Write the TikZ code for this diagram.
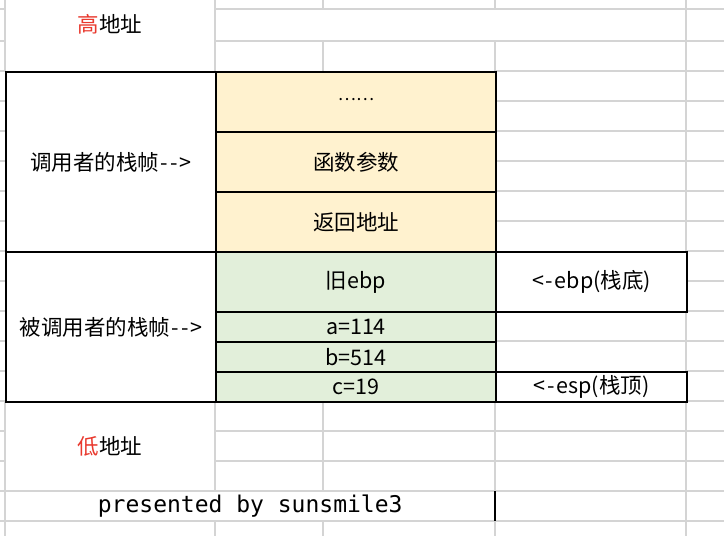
\documentclass[tikz,border=0pt]{standalone}
\usepackage{fontspec}
\setmainfont{Noto Sans CJK SC}
\newfontfamily\monofont{DejaVu Sans Mono}
\definecolor{gridgray}{RGB}{212,212,212}
\definecolor{cellyellow}{RGB}{255,242,207}
\definecolor{cellgreen}{RGB}{226,239,218}
\definecolor{addrred}{RGB}{233,57,46}
\newcommand{\arrowtxt}{\kern1.5pt-\kern2pt-\kern2pt>}
\newcommand{\leftarrowtxt}{<\kern2pt-\kern1.5pt}
\tikzset{
  gridline/.style={draw=gridgray, line width=1.5pt},
  blackline/.style={draw=black, line width=2pt},
  cell/.style={draw=black, line width=2pt, anchor=north west, inner sep=0pt,
    font=\fontsize{21.5}{25}\selectfont, text=black},
  plain/.style={anchor=north west, inner sep=0pt,
    font=\fontsize{21.5}{25}\selectfont, text=black},
}
\begin{document}
\begin{tikzpicture}[x=1pt,y=-1pt]
\useasboundingbox (0,0) rectangle (724,536);
\fill[white] (0,0) rectangle (724,536);
% ---- gray grid ----
% verticals
\draw[gridline] (5,0) -- (5,71) (5,401) -- (5,536);
\draw[gridline] (215,0) -- (215,71) (215,401) -- (215,491) (215,521) -- (215,536);
\draw[gridline] (323,0) -- (323,9) (323,41) -- (323,71) (323,401) -- (323,491) (323,521) -- (323,536);
\draw[gridline] (495,0) -- (495,9) (495,41) -- (495,71) (495,401) -- (495,491) (495,521) -- (495,536);
\draw[gridline] (686,0) -- (686,251) (686,311) -- (686,371) (686,401) -- (686,536);
% horizontals
\foreach \y in {9,41,431,461} { \draw[gridline] (0,\y) -- (5,\y) (215,\y) -- (724,\y); }
\foreach \y in {71,101,131,161,191,221,341} { \draw[gridline] (0,\y) -- (5,\y) (495,\y) -- (724,\y); }
\foreach \y in {251,281,311,371,401} { \draw[gridline] (0,\y) -- (5,\y) (686,\y) -- (724,\y); }
\foreach \y in {491,521} { \draw[gridline] (0,\y) -- (724,\y); }
% ---- unbordered cells ----
\node[plain, minimum width=210pt, minimum height=48pt] (high) at (5,0) {\textcolor{addrred}{高}地址};
\node[plain, minimum width=210pt, minimum height=90pt] (low) at (5,401) {\textcolor{addrred}{低}地址};
\node[plain, minimum width=490pt, minimum height=30pt, font=\monofont\fontsize{23}{26}\selectfont] (credit) at (5,491) {presented by sunsmile3};
% ---- bordered cells ----
\node[cell, fill=white, minimum width=210pt, minimum height=180pt] (caller) at (5,71) {调用者的栈帧\arrowtxt};
\node[cell, fill=white, minimum width=210pt, minimum height=150pt] (callee) at (5,251) {被调用者的栈帧\arrowtxt};
\node[cell, fill=cellyellow, minimum width=280pt, minimum height=60pt] (dots) at (215,71) {\raisebox{6pt}{\fontsize{17}{20}\selectfont ……}};
\node[cell, fill=cellyellow, minimum width=280pt, minimum height=60pt] (args) at (215,131) {函数参数};
\node[cell, fill=cellyellow, minimum width=280pt, minimum height=60pt] (ret) at (215,191) {返回地址};
\node[cell, fill=cellgreen, minimum width=280pt, minimum height=60pt] (oldebp) at (215,251) {旧ebp};
\node[cell, fill=cellgreen, minimum width=280pt, minimum height=30pt] (va) at (215,311) {a=114};
\node[cell, fill=cellgreen, minimum width=280pt, minimum height=30pt] (vb) at (215,341) {b=514};
\node[cell, fill=cellgreen, minimum width=280pt, minimum height=30pt] (vc) at (215,371) {c=19};
\node[cell, fill=white, minimum width=191pt, minimum height=60pt] (ebp) at (495,251) {\leftarrowtxt ebp(栈底)};
\node[cell, fill=white, minimum width=191pt, minimum height=30pt] (esp) at (495,371) {\leftarrowtxt esp(栈顶)};
\draw[blackline] (credit.north east) -- (credit.south east);
\end{tikzpicture}
\end{document}
